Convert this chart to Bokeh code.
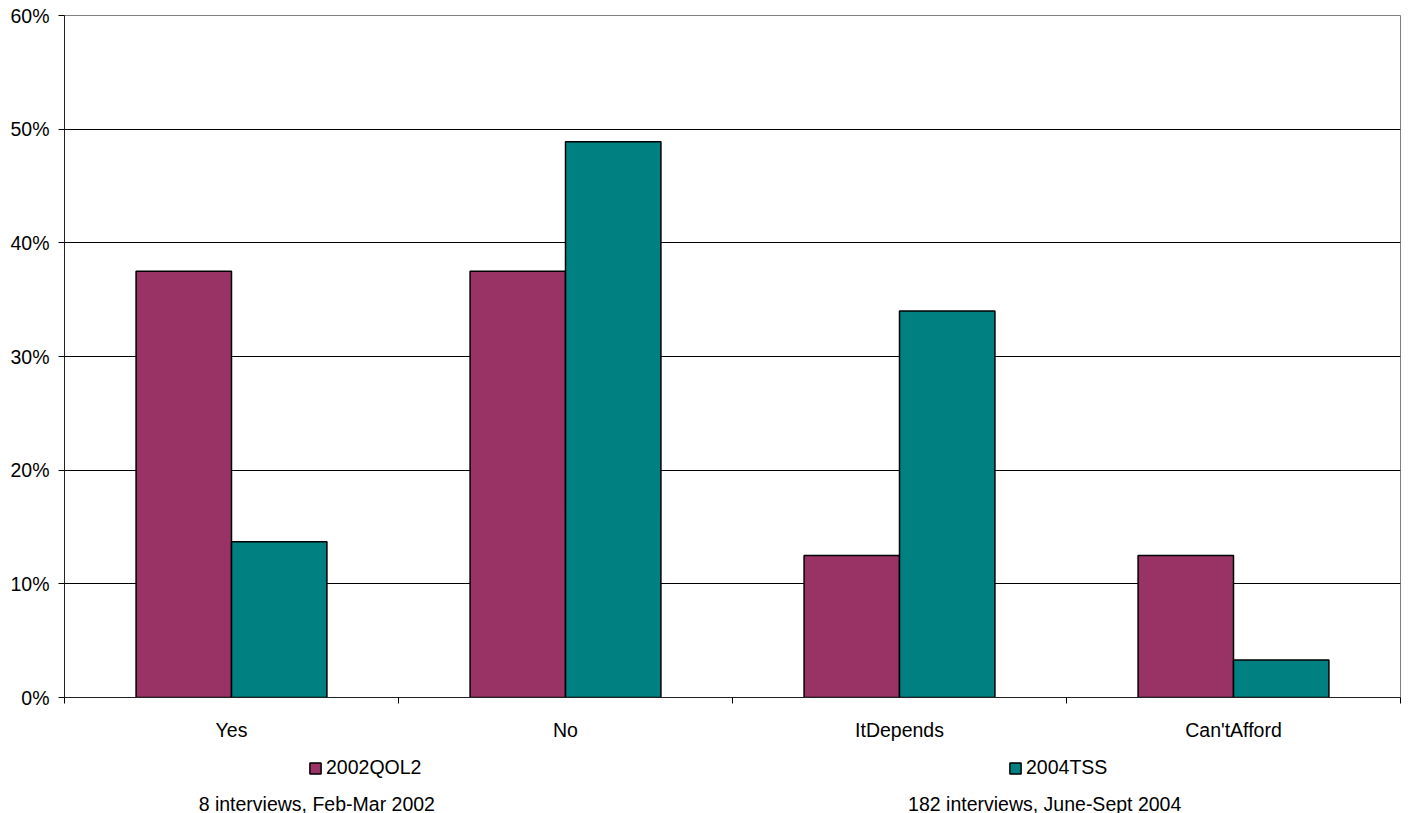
from bokeh.plotting import figure
from bokeh.models import (Range1d, FixedTicker, NumeralTickFormatter, Legend, LegendItem,
                          ColumnDataSource)
from bokeh.layouts import column
from bokeh.transform import dodge
from bokeh.embed import file_html
from bokeh.resources import INLINE

categories = ["Yes", "No", "ItDepends", "Can'tAfford"]
series_names = ["2002QOL2", "2004TSS"]
values_2002 = [0.375, 0.375, 0.125, 0.125]
values_2004 = [0.137, 0.489, 0.340, 0.033]
subtitles = ["8 interviews, Feb-Mar 2002", "182 interviews, June-Sept 2004"]
colors = ["#993366", "#008080"]

FONT = "Liberation Sans"
FS = "19.5px"
idx = [i + 0.5 for i in range(len(categories))]
src = ColumnDataSource(dict(x=idx, v1=values_2002, v2=values_2004))

# ---------------- main chart ----------------
p = figure(frame_width=1336, frame_height=682, x_range=Range1d(0, 4), y_range=Range1d(0, 0.6),
           output_backend="svg", toolbar_location=None,
           min_border_left=64, min_border_top=15, min_border_right=4, min_border_bottom=40)
p.background_fill_color = "white"
p.outline_line_color = "#808080"
p.outline_line_width = 1

bw = 1 / 3.5
r1 = p.vbar(x=dodge("x", -bw / 2, range=p.x_range), top="v1", width=bw, bottom=0, source=src,
            fill_color=colors[0], line_color="black", line_width=1.5)
r2 = p.vbar(x=dodge("x", bw / 2, range=p.x_range), top="v2", width=bw, bottom=0, source=src,
            fill_color=colors[1], line_color="black", line_width=1.5)

p.xgrid.visible = False
p.ygrid.ticker = FixedTicker(ticks=[0.1, 0.2, 0.3, 0.4, 0.5])
p.ygrid.grid_line_color = "black"
p.ygrid.grid_line_width = 1
p.ygrid.level = "underlay"

p.yaxis.ticker = FixedTicker(ticks=[0, 0.1, 0.2, 0.3, 0.4, 0.5, 0.6])
p.yaxis.formatter = NumeralTickFormatter(format="0%")
p.yaxis.major_tick_in = 0
p.yaxis.major_tick_out = 6
p.yaxis.minor_tick_line_color = None
p.yaxis.major_label_standoff = 9
p.yaxis.axis_line_color = "#222222"

p.xaxis.ticker = FixedTicker(ticks=idx, minor_ticks=[0, 1, 2, 3, 4])
p.xaxis.major_label_overrides = {v: c for v, c in zip(idx, categories)}
p.xaxis.major_tick_line_color = None
p.xaxis.major_tick_out = 0
p.xaxis.major_tick_in = 0
p.xaxis.minor_tick_in = 0
p.xaxis.minor_tick_out = 6
p.xaxis.major_label_standoff = 15
p.xaxis.axis_line_color = "#222222"

for ax in (p.xaxis[0], p.yaxis[0]):
    ax.major_label_text_font = FONT
    ax.major_label_text_font_size = FS
    ax.major_label_text_color = "black"

# ---------------- legend / notes strip (page pixel coordinates) ----------------
q = figure(frame_width=1336, frame_height=76, x_range=Range1d(64, 1400), y_range=Range1d(813, 737),
           output_backend="svg", toolbar_location=None, x_axis_type=None, y_axis_type=None,
           min_border_left=64, min_border_right=4, min_border_top=0, min_border_bottom=0)
q.outline_line_color = None
q.grid.visible = False

nan = float("nan")
swatches = [q.vbar(x=[nan], top=[nan], bottom=[nan], width=1, fill_color=c,
                   line_color="black", line_width=1.5) for c in colors]

for r, name, loc in ((swatches[0], series_names[0], (244, 40)),
                     (swatches[1], series_names[1], (944, 40))):
    lg = Legend(items=[LegendItem(label=name, renderers=[r])], location=loc,
                glyph_width=14, glyph_height=14, label_standoff=4, padding=0, margin=0,
                border_line_color=None, background_fill_alpha=0,
                label_text_font=FONT, label_text_font_size=FS, label_text_color="black",
                label_height=20)
    q.add_layout(lg, "center")

q.text(x=[316.3, 1044.2], y=[797.5, 797.5], text=subtitles, text_align="center",
       text_baseline="middle", text_font={"value": FONT}, text_font_size={"value": FS},
       text_color="black")

layout = column(p, q, spacing=0)
open("out.html", "w").write(file_html(layout, INLINE))
